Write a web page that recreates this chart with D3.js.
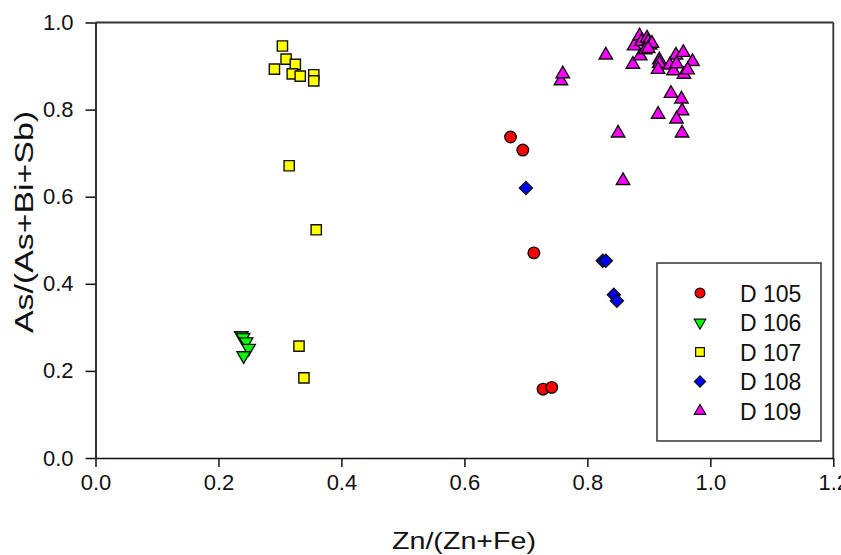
<!DOCTYPE html>
<html><head><meta charset="utf-8">
<script src="https://cdn.jsdelivr.net/npm/d3@7"></script>
<style>body{margin:0;background:#fff}svg{display:block}text{font-family:"Liberation Sans",Arial,sans-serif}</style>
</head><body><svg id="c" width="841" height="555"></svg>
<script>
const xTicks = [0.0, 0.2, 0.4, 0.6, 0.8, 1.0, 1.2];
const yTicks = [0.0, 0.2, 0.4, 0.6, 0.8, 1.0];
const seriesNames = ["D 105", "D 106", "D 107", "D 108", "D 109"];
const seriesColors = ["#ff0000", "#00ff00", "#ffff00", "#0000ff", "#ff00ff"];
const seriesShapes = ["circle", "triangleDown", "square", "diamond", "triangleUp"];

const d105x = [0.675, 0.695, 0.713, 0.728, 0.742];
const d105y = [0.737, 0.707, 0.471, 0.158, 0.162];

const d106x = [0.237, 0.240, 0.245, 0.249, 0.241];
const d106y = [0.281, 0.277, 0.267, 0.252, 0.235];

const d107x = [0.304, 0.310, 0.325, 0.291, 0.320, 0.333, 0.355, 0.355, 0.315, 0.359, 0.331, 0.339];
const d107y = [0.946, 0.916, 0.904, 0.893, 0.882, 0.877, 0.880, 0.866, 0.671, 0.524, 0.257, 0.184];

const d108x = [0.700, 0.825, 0.830, 0.843, 0.848];
const d108y = [0.620, 0.453, 0.453, 0.375, 0.361];

const d109x = [0.757, 0.760, 0.830, 0.850, 0.858, 0.874, 0.876, 0.885, 0.888, 0.886, 0.897, 0.899, 0.902, 0.905, 0.894, 0.899,
               0.917, 0.917, 0.915, 0.944, 0.956, 0.971, 0.934, 0.940, 0.957, 0.963, 0.945, 0.936, 0.953, 0.915, 0.954, 0.945, 0.954];
const d109y = [0.866, 0.882, 0.925, 0.746, 0.637, 0.904, 0.946, 0.969, 0.956, 0.923, 0.964, 0.956, 0.948, 0.952, 0.937, 0.940,
               0.914, 0.906, 0.892, 0.925, 0.931, 0.910, 0.902, 0.889, 0.881, 0.891, 0.905, 0.837, 0.824, 0.789, 0.797, 0.778, 0.746];

const seriesX = [d105x, d106x, d107x, d108x, d109x];
const seriesY = [d105y, d106y, d107y, d108y, d109y];

const svg = d3.select("#c");
const L = 95.5, R = 833.3, T = 22.5, B = 458;
const x = d3.scaleLinear().domain([0, 1.2]).range([L, R]);
const y = d3.scaleLinear().domain([0, 1.0]).range([B, T]);

// frame top/right
svg.append("line").attr("x1", L).attr("x2", R).attr("y1", T).attr("y2", T).attr("stroke", "#333").attr("stroke-width", 1.8);
svg.append("line").attr("x1", R).attr("x2", R).attr("y1", T).attr("y2", B).attr("stroke", "#333").attr("stroke-width", 1.8);

const fs = 22;
const xAxis = svg.append("g").attr("transform", `translate(0,${B})`)
  .call(d3.axisBottom(x).tickValues(xTicks).tickFormat(d3.format(".1f")).tickSize(9).tickSizeOuter(0).tickPadding(7));
const yAxis = svg.append("g").attr("transform", `translate(${L},0)`)
  .call(d3.axisLeft(y).tickValues(yTicks).tickFormat(d3.format(".1f")).tickSize(10).tickSizeOuter(0).tickPadding(12));
[xAxis, yAxis].forEach(g => {
  g.select(".domain").attr("stroke", "#111").attr("stroke-width", 1.7);
  g.selectAll(".tick line").attr("stroke", "#111").attr("stroke-width", 1.5);
  g.selectAll(".tick text").attr("font-size", fs).attr("fill", "#111").style("font-family", "'Liberation Sans',Arial,sans-serif");
});

svg.append("text").attr("x", 464).attr("y", 549).attr("text-anchor", "middle").attr("font-size", 24)
  .attr("textLength", 144).attr("lengthAdjust", "spacingAndGlyphs").attr("fill", "#111").text("Zn/(Zn+Fe)");
svg.append("text").attr("transform", "translate(33,222) rotate(-90)").attr("text-anchor", "middle").attr("font-size", 25)
  .attr("textLength", 222).attr("lengthAdjust", "spacingAndGlyphs").attr("fill", "#111").text("As/(As+Bi+Sb)");

function symPath(shape) {
  if (shape === "circle") return d3.symbol(d3.symbolCircle, 105)();
  if (shape === "square") return d3.symbol(d3.symbolSquare, 105)();
  if (shape === "diamond") return d3.symbol(d3.symbolSquare, 85)();
  return d3.symbol(d3.symbolTriangle, 78)();
}
function symRot(shape) {
  if (shape === "diamond") return 45;
  if (shape === "triangleDown") return 180;
  return 0;
}

seriesNames.forEach((name, i) => {
  const pts = seriesX[i].map((v, j) => [v, seriesY[i][j]]);
  svg.append("g").selectAll("path").data(pts).join("path")
    .attr("d", symPath(seriesShapes[i]))
    .attr("transform", d => `translate(${x(d[0])},${y(d[1])}) rotate(${symRot(seriesShapes[i])})`)
    .attr("fill", seriesColors[i]).attr("stroke", "#111").attr("stroke-width", 1.4);
});

// legend
const lg = svg.append("g");
lg.append("rect").attr("x", 657).attr("y", 263).attr("width", 164).attr("height", 178)
  .attr("fill", "#fff").attr("stroke", "#333").attr("stroke-width", 1.5);
seriesNames.forEach((name, i) => {
  const yy = 293 + i * 29.5;
  lg.append("path").attr("d", symPath(seriesShapes[i]))
    .attr("transform", `translate(700,${yy}) rotate(${symRot(seriesShapes[i])}) scale(0.85)`)
    .attr("fill", seriesColors[i]).attr("stroke", "#111").attr("stroke-width", 1.4);
  lg.append("text").attr("x", 740).attr("y", yy + 8.5).attr("font-size", 23).attr("fill", "#111").text(name);
});
</script></body></html>
